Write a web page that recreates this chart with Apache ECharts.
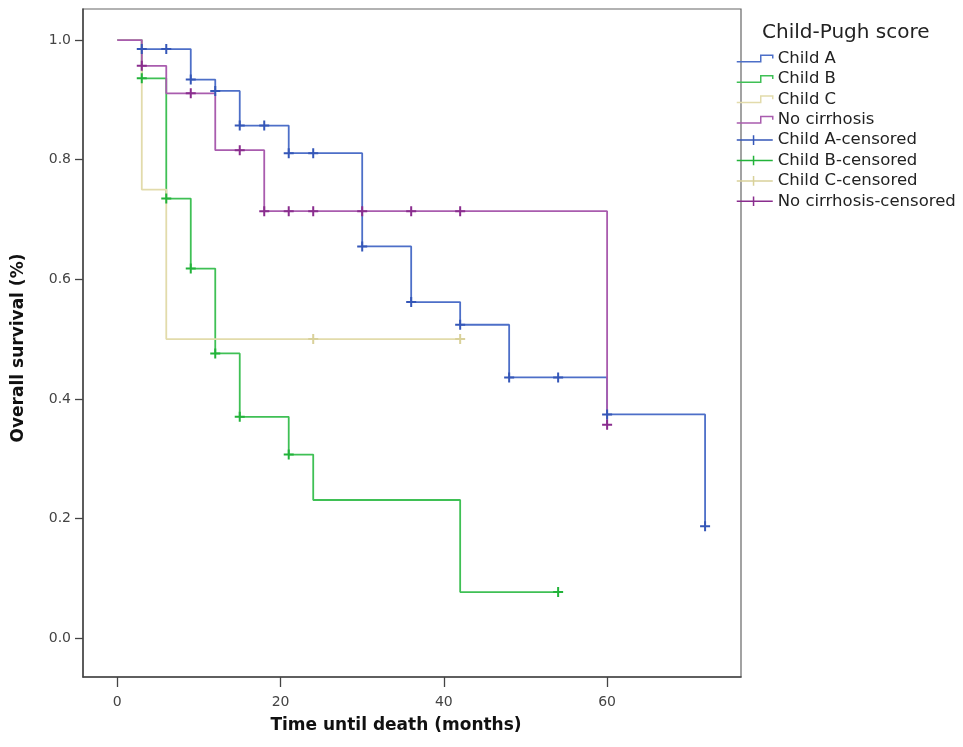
<!DOCTYPE html>
<html>
<head>
<meta charset="utf-8">
<script src="https://cdn.jsdelivr.net/npm/echarts@6/dist/echarts.min.js"></script>
<style>html,body{margin:0;padding:0;background:#fff}#c{width:963px;height:747px}</style>
</head>
<body>
<div id="c"></div>
<script>
// Kaplan-Meier steps: [month, survival]
const childA = [[0,1.0],[3,0.985],[9,0.934],[12,0.915],[15,0.857],[21,0.811],[30,0.655],[36,0.562],[42,0.524],[48,0.436],[60,0.374],[72,0.187]];
const childB = [[0,1.0],[3,0.936],[6,0.735],[9,0.618],[12,0.476],[15,0.370],[21,0.307],[24,0.231],[42,0.077],[54,0.077]];
const childC = [[0,1.0],[3,0.75],[6,0.5],[42,0.5]];
const noCirr = [[0,1.0],[3,0.957],[6,0.911],[12,0.816],[18,0.714],[60,0.357]];
// censored marks
const childACens = [[3,0.985],[6,0.985],[9,0.934],[12,0.915],[15,0.857],[18,0.857],[21,0.811],[24,0.811],[30,0.655],[36,0.562],[42,0.524],[48,0.436],[54,0.436],[60,0.374],[72,0.187]];
const childBCens = [[3,0.936],[6,0.735],[9,0.618],[12,0.476],[15,0.370],[21,0.307],[54,0.077]];
const childCCens = [[24,0.5],[42,0.5]];
const noCirrCens = [[3,0.957],[9,0.911],[15,0.816],[18,0.714],[21,0.714],[24,0.714],[30,0.714],[36,0.714],[42,0.714],[60,0.357]];
const xTicks = [0,20,40,60];
const yTicks = [0,0.2,0.4,0.6,0.8,1.0];
const groupNames = ['Child A','Child B','Child C','No cirrhosis'];

const lineColors = ['#4d6fc8','#3fc055','#e2dbab','#a95cae'];
const censColors = ['#3557b8','#22b33a','#d9d19a','#8a2d8e'];
const curves = [childA, childB, childC, noCirr];
const cens = [childACens, childBCens, childCCens, noCirrCens];

const stepIcon = 'path://M0,6L22,6L22,0L33,0L33,3';
const plusIcon = 'path://M0,4L30,4M14,0L14,8';
const plusSym = 'path://M0,5L10,5M5,0L5,10';

const series = [];
curves.forEach((d,i)=>{
  series.push({name: groupNames[i], type:'line', step:'end', data:d, showSymbol:false, symbol:'none',
    lineStyle:{color:lineColors[i], width:1.8}, itemStyle:{color:lineColors[i]}, z: 2, animation:false});
});
cens.forEach((d,i)=>{
  series.push({name: groupNames[i]+'-censored', type:'scatter', data:d, symbol:plusSym, symbolSize:10,
    itemStyle:{color:'transparent', borderColor:censColors[i], borderWidth:2, opacity:1}, z: 3, animation:false});
});

const legendData = [];
groupNames.forEach((n,i)=>legendData.push({name:n, icon:stepIcon, itemStyle:{color:'transparent', borderColor:lineColors[i], borderWidth:1.5}}));
groupNames.forEach((n,i)=>legendData.push({name:n+'-censored', icon:plusIcon, itemStyle:{color:'transparent', borderColor:censColors[i], borderWidth:1.5}}));

const chart = echarts.init(document.getElementById('c'), null, {renderer:'canvas'});
chart.setOption({
  animation:false,
  backgroundColor:'#fff',
  title:{text:'Child-Pugh score', left:757, top:18, textStyle:{fontFamily:'DejaVu Sans', fontSize:20, fontWeight:'normal', color:'#222'}},
  legend:{orient:'vertical', left:731, top:45, itemWidth:36, itemHeight:14, itemGap:3.4, selectedMode:false,
    textStyle:{fontFamily:'DejaVu Sans', fontSize:16.5, color:'#222'}, data:legendData},
  grid:{left:83, right:222, top:9, bottom:70, show:true, borderColor:'#666', borderWidth:1.2, backgroundColor:'#fff'},
  xAxis:{type:'value', min:-4.2, max:76.4,
    name:'Time until death (months)', nameLocation:'middle', nameGap:40,
    nameTextStyle:{fontFamily:'DejaVu Sans', fontSize:17, fontWeight:'bold', color:'#111', padding:[0,32,0,0]},
    axisLine:{show:true, onZero:false, lineStyle:{color:'#444', width:1.5}},
    axisTick:{show:true, inside:false, length:10, customValues:xTicks, lineStyle:{color:'#444', width:1.3}},
    axisLabel:{customValues:xTicks, margin:18, fontFamily:'DejaVu Sans', fontSize:14, color:'#444'},
    splitLine:{show:false}},
  yAxis:{type:'value', min:-0.065, max:1.052,
    name:'Overall survival (%)', nameLocation:'middle', nameGap:56,
    nameTextStyle:{fontFamily:'DejaVu Sans', fontSize:17, fontWeight:'bold', color:'#111', padding:[0,10,0,0]},
    axisLine:{show:true, onZero:false, lineStyle:{color:'#444', width:1.5}},
    axisTick:{show:true, inside:false, length:8, customValues:yTicks, lineStyle:{color:'#444', width:1.3}},
    axisLabel:{customValues:yTicks, margin:12, fontFamily:'DejaVu Sans', fontSize:14, color:'#444', formatter:v=>v.toFixed(1)},
    splitLine:{show:false}},
  series: series
});
</script>
</body>
</html>
